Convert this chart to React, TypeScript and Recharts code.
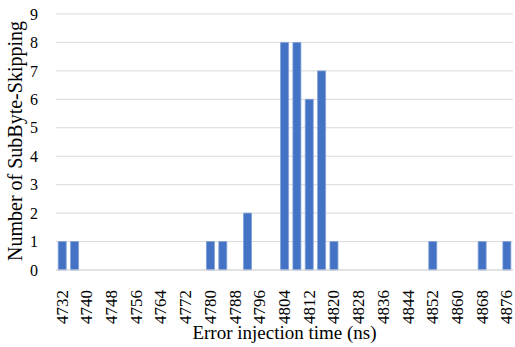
import { BarChart, Bar, XAxis, YAxis, CartesianGrid } from 'recharts';

// injection times (ns), every 4 ns
const times = [
  4732, 4736, 4740, 4744, 4748, 4752, 4756, 4760, 4764, 4768, 4772, 4776, 4780,
  4784, 4788, 4792, 4796, 4800, 4804, 4808, 4812, 4816, 4820, 4824, 4828, 4832,
  4836, 4840, 4844, 4848, 4852, 4856, 4860, 4864, 4868, 4872, 4876,
];

// number of SubByte-Skipping at each time
const counts = [
  1, 1, 0, 0, 0, 0, 0, 0, 0, 0, 0, 0, 1,
  1, 0, 2, 0, 0, 8, 8, 6, 7, 1, 0, 0, 0,
  0, 0, 0, 0, 1, 0, 0, 0, 1, 0, 1,
];

const yTicks = [0, 1, 2, 3, 4, 5, 6, 7, 8, 9];

const data = times.map((t, i) => ({ time: String(t), count: counts[i] }));

const FONT = '"Liberation Serif", "Times New Roman", serif';

const XTick = (props: any) => {
  const { x, y, payload } = props;
  const ty = y + 12;
  return (
    <text
      x={x}
      y={ty}
      transform={`rotate(-90, ${x}, ${ty})`}
      textAnchor="end"
      dominantBaseline="central"
      fontFamily={FONT}
      fontSize={17}
      fill="#000"
    >
      {payload.value}
    </text>
  );
};

const YLabel = (props: any) => {
  const vb = props.viewBox || {};
  const cy = vb.y + vb.height / 2 - 1;
  const bx = 22;
  return (
    <text
      x={bx}
      y={cy}
      transform={`rotate(-90, ${bx}, ${cy})`}
      textAnchor="middle"
      fontFamily={FONT}
      fontSize={20}
      fill="#000"
    >
      Number of SubByte-Skipping
    </text>
  );
};

const XLabel = (props: any) => {
  const vb = props.viewBox || {};
  return (
    <text
      x={vb.x + vb.width / 2}
      y={339}
      textAnchor="middle"
      fontFamily={FONT}
      fontSize={19}
      fill="#000"
    >
      Error injection time (ns)
    </text>
  );
};

export default function App() {
  return (
    <div style={{ position: 'absolute', left: 0, top: 0, background: '#fff' }}>
      <BarChart
        width={515}
        height={347}
        data={data}
        margin={{ top: 14, right: 2, left: 0, bottom: 0 }}
        barCategoryGap="18%"
      >
        <CartesianGrid vertical={false} stroke="#d9d9d9" />
        <XAxis
          dataKey="time"
          interval={1}
          height={77}
          tickLine={false}
          axisLine={{ stroke: '#d9d9d9' }}
          tick={<XTick />}
          label={{ content: XLabel }}
        />
        <YAxis
          width={56}
          domain={[0, 9]}
          ticks={yTicks}
          interval={0}
          tickLine={false}
          axisLine={false}
          tickMargin={12}
          tick={{ fontFamily: FONT, fontSize: 16, fill: '#000' }}
          label={{ content: YLabel }}
        />
        <Bar
          dataKey="count"
          fill="#4472c4"
          stroke="#7f9fd8"
          strokeWidth={0.8}
          isAnimationActive={false}
        />
      </BarChart>
    </div>
  );
}
